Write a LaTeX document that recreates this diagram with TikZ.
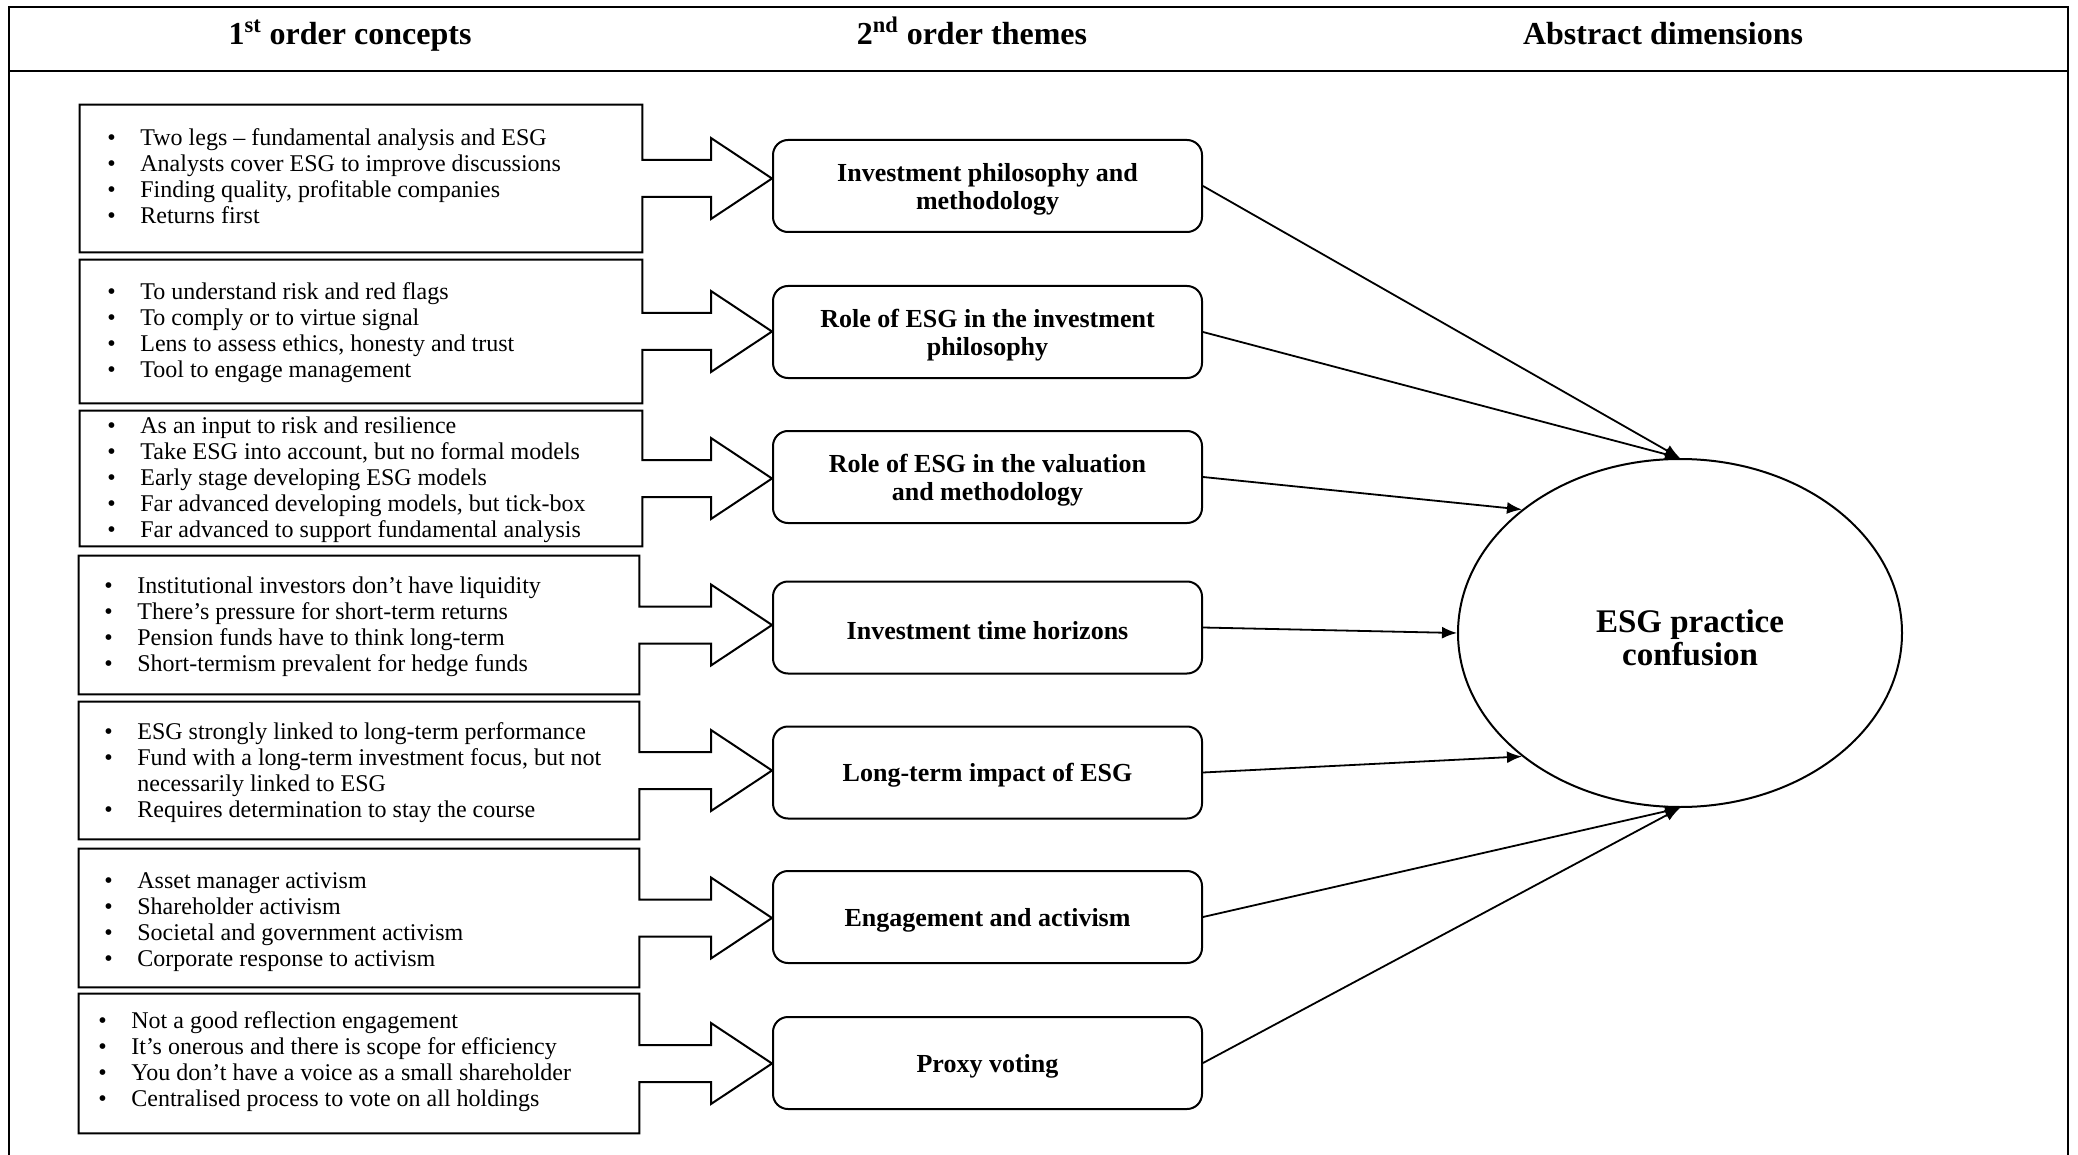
\documentclass[tikz,border=0pt]{standalone}
\usepackage{fontspec}
\setmainfont{Liberation Serif}
\usetikzlibrary{calc,fit,shapes.geometric,arrows.meta}

% one bullet line, and a continuation line with the same indent
\newcommand{\itm}[1]{\makebox[16.5pt][l]{\textbullet}#1}
\newcommand{\cnt}[1]{\makebox[16.5pt][l]{}#1}
% strut that lowers a theme label a little inside its box
\newcommand{\tstrut}{\rule{0pt}{12.5pt}}

% concept box outline merged with its block arrow pointing at a theme
\newcommand{\conceptarrow}[2]{%
  \draw[outline] (#1.north west) -- (#1.north east)
    -- ($(#1.east)+(0,-18.5)$)
    -- ($(#1.east -| #2.west)+(-61,-18.5)$)
    -- ($(#1.east -| #2.west)+(-61,-40.5)$)
    -- (#1.east -| #2.west)
    -- ($(#1.east -| #2.west)+(-61,40.5)$)
    -- ($(#1.east -| #2.west)+(-61,18.5)$)
    -- ($(#1.east)+(0,18.5)$)
    -- (#1.south east) -- (#1.south west) -- cycle;}

\begin{document}
\begin{tikzpicture}[x=0.5pt,y=-0.5pt,
  frame/.style={line width=1.15pt},
  concept/.style={inner sep=0pt, draw=none},
  concepttext/.style={anchor=west, inner sep=0pt, align=left,
    font=\fontsize{12}{13}\selectfont},
  outline/.style={line width=1pt, line join=miter},
  theme/.style={draw, line width=1pt, rounded corners=7.5pt,
    minimum width=214.5pt, minimum height=46pt, align=center, inner sep=0pt,
    font=\bfseries\fontsize{13}{14}\selectfont},
  dimension/.style={draw, ellipse, line width=1pt,
    minimum width=222pt, minimum height=174pt, inner sep=0pt},
  dimtext/.style={align=center, inner sep=0pt,
    font=\bfseries\fontsize{16.5}{16.5}\selectfont},
  conn/.style={line width=0.9pt, -{Latex[length=7.5pt,width=6pt]}},
  heading/.style={anchor=base, inner sep=0pt, font=\bfseries\fontsize{16}{18}\selectfont}
]
\useasboundingbox (0,0) rectangle (2078,1155);

% outer frame, open at the bottom, with the heading row
\draw[frame] (9,1155) -- (9,7) -- (2068,7) -- (2068,1155);
\draw[frame] (9,71) -- (2068,71);

\node[heading] (h1) at (350,45) {1\textsuperscript{st} order concepts};
\node[heading] (h2) at (972,45) {2\textsuperscript{nd} order themes};
\node[heading] (h3) at (1663,45) {Abstract dimensions};

% first-order concept boxes
\node[concept, fit={(80,105) (642,252)}] (b1) {};
\node[concept, fit={(80,260) (642,403)}] (b2) {};
\node[concept, fit={(80,411) (642,546)}] (b3) {};
\node[concept, fit={(79,556) (639,694)}] (b4) {};
\node[concept, fit={(79,702) (639,839)}] (b5) {};
\node[concept, fit={(79,849) (639,987)}] (b6) {};
\node[concept, fit={(79,994) (639,1133)}] (b7) {};

\node[concepttext] (b1t) at (107,176) {%
  \itm{Two legs -- fundamental analysis and ESG}\\
  \itm{Analysts cover ESG to improve discussions}\\
  \itm{Finding quality, profitable companies}\\
  \itm{Returns first}};
\node[concepttext] (b2t) at (107,333) {%
  \itm{To understand risk and red flags}\\
  \itm{To comply or to virtue signal}\\
  \itm{Lens to assess ethics, honesty and trust}\\
  \itm{Tool to engage management}};
\node[concepttext] (b3t) at (107,480) {%
  \itm{As an input to risk and resilience}\\
  \itm{Take ESG into account, but no formal models}\\
  \itm{Early stage developing ESG models}\\
  \itm{Far advanced developing models, but tick-box}\\
  \itm{Far advanced to support fundamental analysis}};
\node[concepttext] (b4t) at (104,627) {%
  \itm{Institutional investors don’t have liquidity}\\
  \itm{There’s pressure for short-term returns}\\
  \itm{Pension funds have to think long-term}\\
  \itm{Short-termism prevalent for hedge funds}};
\node[concepttext] (b5t) at (104,773) {%
  \itm{ESG strongly linked to long-term performance}\\
  \itm{Fund with a long-term investment focus, but not}\\
  \cnt{necessarily linked to ESG}\\
  \itm{Requires determination to stay the course}};
\node[concepttext] (b6t) at (104,922) {%
  \itm{Asset manager activism}\\
  \itm{Shareholder activism}\\
  \itm{Societal and government activism}\\
  \itm{Corporate response to activism}};
\node[concepttext] (b7t) at (98,1062) {%
  \itm{Not a good reflection engagement}\\
  \itm{It’s onerous and there is scope for efficiency}\\
  \itm{You don’t have a voice as a small shareholder}\\
  \itm{Centralised process to vote on all holdings}};

% second-order themes
\node[theme] (t1) at (987.5,186)  {\tstrut Investment philosophy and\\methodology};
\node[theme] (t2) at (987.5,332)  {\tstrut Role of ESG in the investment\\philosophy};
\node[theme] (t3) at (987.5,477)  {\tstrut Role of ESG in the valuation\\and methodology};
\node[theme] (t4) at (987.5,627.5){\rule{0pt}{12pt}Investment time horizons};
\node[theme] (t5) at (987.5,772.5){\rule{0pt}{12pt}Long-term impact of ESG};
\node[theme] (t6) at (987.5,917)  {\rule{0pt}{12pt}Engagement and activism};
\node[theme] (t7) at (987.5,1063) {\rule{0pt}{12pt}Proxy voting};

% block arrows from concepts to themes
\conceptarrow{b1}{t1}
\conceptarrow{b2}{t2}
\conceptarrow{b3}{t3}
\conceptarrow{b4}{t4}
\conceptarrow{b5}{t5}
\conceptarrow{b6}{t6}
\conceptarrow{b7}{t7}

% abstract dimension
\node[dimension] (E) at (1680,633) {};
\node[dimtext] (Et) at (1690,638) {ESG practice\\confusion};

% themes feeding the dimension
\draw[conn] (t1.east) -- (E.north);
\draw[conn] (t2.east) -- (E.north);
\draw[conn] (t3.east) -- (E.142);
\draw[conn] (t4.east) -- (E.west);
\draw[conn] (t5.east) -- (E.218);
\draw[conn] (t6.east) -- (E.south);
\draw[conn] (t7.east) -- (E.south);

\end{tikzpicture}
\end{document}
